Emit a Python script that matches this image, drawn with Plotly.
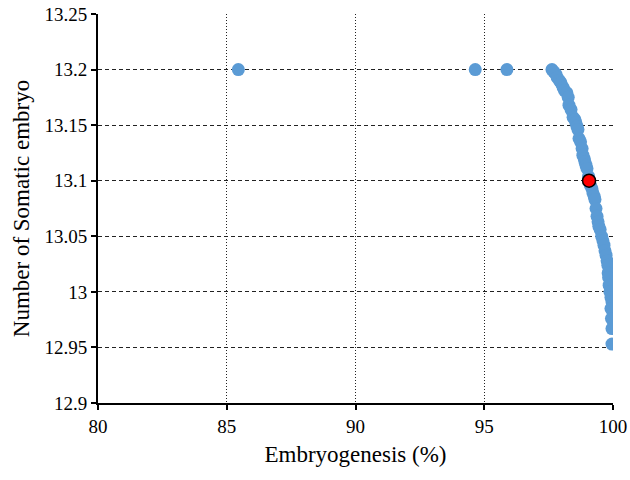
import plotly.graph_objects as go

# Pareto front points
embryogenesis = [85.45, 94.65, 95.88,
                 97.63, 97.70, 97.78, 97.83, 97.92, 97.98, 98.06, 98.12, 98.21, 98.26,
                 98.29, 98.37, 98.45, 98.52, 98.56, 98.60, 98.64, 98.68, 98.74, 98.80,
                 98.83, 98.88, 98.91, 98.95, 98.99, 99.05, 99.12, 99.18, 99.22, 99.27,
                 99.30, 99.34, 99.38, 99.42, 99.45, 99.50, 99.56, 99.61, 99.65, 99.69,
                 99.73, 99.77, 99.80, 99.81, 99.83, 99.85, 99.88, 99.92, 99.96, 99.92,
                 99.94, 99.96, 99.96]
somatic = [13.200, 13.200, 13.200,
           13.200, 13.198, 13.196, 13.193, 13.190, 13.188, 13.184, 13.181, 13.179, 13.175,
           13.168, 13.164, 13.157, 13.155, 13.152, 13.149, 13.146, 13.138, 13.135, 13.129,
           13.123, 13.120, 13.117, 13.114, 13.111, 13.104, 13.096, 13.093, 13.089, 13.086,
           13.083, 13.075, 13.068, 13.063, 13.059, 13.056, 13.050, 13.046, 13.042, 13.037,
           13.033, 13.028, 13.024, 13.017, 13.013, 13.006, 13.000, 12.995, 12.991, 12.985,
           12.976, 12.967, 12.953]

best_x = [99.07]
best_y = [13.100]

x_ticks = [80, 85, 90, 95, 100]
y_ticks = [12.9, 12.95, 13.0, 13.05, 13.1, 13.15, 13.2, 13.25]
y_labels = ['12.9', '12.95', '13', '13.05', '13.1', '13.15', '13.2', '13.25']

font = 'Liberation Serif'
tickfont = dict(family = 'Times New Roman, Liberation Serif, DejaVu Serif', size = 19, color = 'black')

fig = go.Figure()

fig.add_trace(go.Scatter(
    x = embryogenesis, y = somatic, mode = 'markers',
    marker = dict(color = '#5B9BD5', size = 13),
    showlegend = False
))

fig.add_trace(go.Scatter(
    x = best_x, y = best_y, mode = 'markers',
    marker = dict(color = '#FF0000', size = 13, line = dict(color = 'black', width = 1.5)),
    showlegend = False
))

fig.update_layout(
    template = 'none',
    width = 630, height = 480,
    margin = dict(l = 98, r = 17, t = 14, b = 77),
    paper_bgcolor = 'white', plot_bgcolor = 'white',
    font = dict(family = font, size = 19, color = 'black')
)

fig.update_xaxes(
    range = [80, 100], tickvals = x_ticks, automargin = False, tickfont = tickfont,
    showgrid = True, gridcolor = '#222222', griddash = '1px,2px', gridwidth = 1.2,
    showline = True, linecolor = 'black', linewidth = 2,
    ticks = 'outside', ticklen = 5, tickcolor = 'black', tickwidth = 1.5,
    zeroline = False,
    title = dict(text = 'Embryogenesis (%)', font = dict(family = font, size = 23), standoff = 10)
)

fig.update_yaxes(
    range = [12.9, 13.25], tickvals = y_ticks, ticktext = y_labels, automargin = False, tickfont = tickfont,
    showgrid = True, gridcolor = '#222222', griddash = '4px,3px', gridwidth = 1.3,
    showline = True, linecolor = 'black', linewidth = 2,
    ticks = 'outside', ticklen = 5, tickcolor = 'black', tickwidth = 1.5,
    zeroline = False,
    title = dict(text = 'Number of Somatic embryo', font = dict(family = font, size = 23), standoff = 8)
)

fig.write_html('out.html', config = {'displayModeBar': False},
               post_script = "document.body.style.margin = '0';")
